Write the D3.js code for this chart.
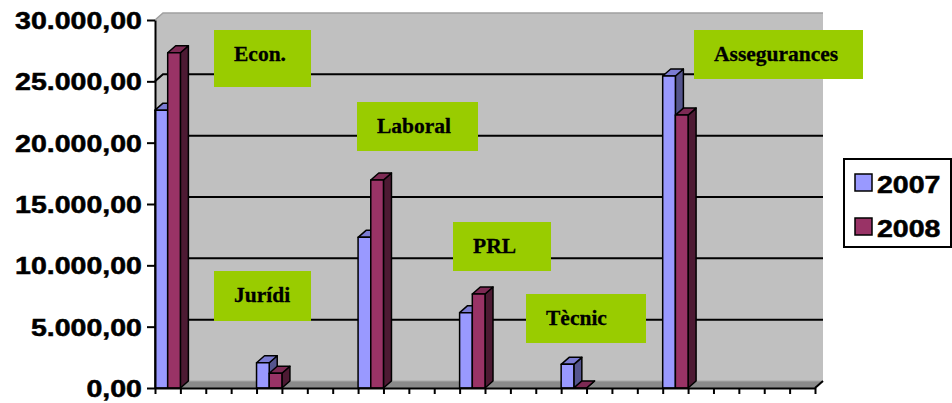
<!DOCTYPE html>
<html>
<head>
<meta charset="utf-8">
<script src="https://cdn.jsdelivr.net/npm/d3@7"></script>
<style>
  body { margin: 0; background: #fff; }
  svg { display: block; }
  .sans { font-family: "Liberation Sans", Arial, sans-serif; font-weight: bold; stroke: #000; stroke-width: 0.5px; }
  .serif { font-family: "Liberation Serif", "Times New Roman", serif; font-weight: bold; stroke: #000; stroke-width: 0.3px; }
</style>
</head>
<body>
<svg id="chart"></svg>
<script>
// data (empty slots have no bars)
const categories = ["Econ.", "", "", "", "Jurídi", "", "", "", "Laboral", "", "", "", "PRL", "", "", "", "Tècnic", "", "", "", "Assegurances", "", "", "", "", ""];
const series = ["2007", "2008"];
const values2007 = [22650, null, null, null, 2060, null, null, null, 12280, null, null, null, 6140, null, null, null, 1930, null, null, null, 25430, null, null, null, null, null];
const values2008 = [27330, null, null, null, 1200, null, null, null, 16960, null, null, null, 7660, null, null, null, 0, null, null, null, 22250, null, null, null, null, null];
const yTicks = [0, 5000, 10000, 15000, 20000, 25000, 30000];

// annotation boxes (free-floating text boxes in the original)
const labelBoxes = [
    {x: 214, y: 30, w: 97, h: 57},
    {x: 214, y: 271, w: 97, h: 50},
    {x: 357, y: 102, w: 121, h: 49},
    {x: 453, y: 222, w: 98, h: 49},
    {x: 526, y: 294, w: 120, h: 49},
    {x: 694, y: 30, w: 169, h: 49}
];

const width = 952, height = 403;
const plot = {left: 155, right: 815, top: 20, bottom: 388};
const depth = {x: 8, y: -7};
const stretch = 1.215;

const svg = d3.select("#chart").attr("width", width).attr("height", height);

const fmt = d3.formatLocale({decimal: ",", thousands: ".", grouping: [3], currency: ["", ""]}).format(",.2f");

const y = d3.scaleLinear().domain([0, 30000]).range([plot.bottom, plot.top]);
const x = d3.scaleBand().domain(d3.range(categories.length)).range([plot.left, plot.right]).padding(0);
const xTicks = d3.scaleLinear().domain([0, categories.length]).range([plot.left, plot.right]);

const colors = {
    "2007": {front: "#9999ff", top: "#7b7bd2", side: "#55558e"},
    "2008": {front: "#993366", top: "#7d2a54", side: "#4d1a33"}
};

const L = plot.left, R = plot.right, T = plot.top, B = plot.bottom;

// walls
const wall = svg.append("g");
wall.append("polygon")
    .attr("points", [[L, T], [L + depth.x, T + depth.y], [L + depth.x, B + depth.y], [L, B]].join(" "))
    .attr("fill", "#c0c0c0");
wall.append("polygon")
    .attr("points", [[L + depth.x, T + depth.y], [R + depth.x, T + depth.y], [R + depth.x, B + depth.y], [L + depth.x, B + depth.y]].join(" "))
    .attr("fill", "#c0c0c0");
wall.append("polyline")
    .attr("points", [[L, T], [L + depth.x, T + depth.y], [R + depth.x, T + depth.y]].join(" "))
    .attr("fill", "none").attr("stroke", "#a0a0a0").attr("stroke-width", 1.5);
// floor
wall.append("polygon")
    .attr("points", [[L, B], [L + depth.x, B + depth.y], [R + depth.x, B + depth.y], [R, B]].join(" "))
    .attr("fill", "#8a8a8a");
wall.append("line")
    .attr("x1", L + depth.x).attr("x2", R + depth.x)
    .attr("y1", B + depth.y).attr("y2", B + depth.y)
    .attr("stroke", "#a8a8a8").attr("stroke-width", 1);

// gridlines
wall.selectAll(".grid").data(yTicks.filter(d => d > 0 && d < 30000))
    .join("polyline")
    .attr("class", "grid")
    .attr("points", d => [[L, y(d)], [L + depth.x, y(d) + depth.y], [R + depth.x, y(d) + depth.y]].join(" "))
    .attr("fill", "none").attr("stroke", "#000").attr("stroke-width", 2);

// bars
const bars = svg.append("g");
const bw = x.bandwidth() / 2;
categories.forEach((c, i) => {
    [values2007[i], values2008[i]].forEach((v, s) => {
        if (v == null) return;
        const col = colors[series[s]];
        const x0 = x(i) + s * bw, x1 = x0 + bw;
        const yt = y(v);
        const g = bars.append("g").attr("stroke", "#000").attr("stroke-width", 1.5).attr("stroke-linejoin", "round");
        g.append("polygon")
            .attr("points", [[x1, yt], [x1 + depth.x, yt + depth.y], [x1 + depth.x, B + depth.y], [x1, B]].join(" "))
            .attr("fill", col.side);
        g.append("polygon")
            .attr("points", [[x0, yt], [x0 + depth.x, yt + depth.y], [x1 + depth.x, yt + depth.y], [x1, yt]].join(" "))
            .attr("fill", col.top);
        if (B - yt > 0) {
            g.append("rect")
                .attr("x", x0).attr("y", yt)
                .attr("width", bw).attr("height", B - yt)
                .attr("fill", col.front);
        }
    });
});

// axes
const yAxis = svg.append("g")
    .attr("transform", `translate(${L},0)`)
    .call(d3.axisLeft(y).tickValues(yTicks).tickFormat(fmt).tickSize(8).tickSizeOuter(0));
yAxis.select(".domain").attr("stroke", "#000").attr("stroke-width", 2);
yAxis.selectAll(".tick line").attr("stroke", "#000").attr("stroke-width", 2);
yAxis.selectAll(".tick text")
    .attr("class", "sans")
    .attr("x", 0).attr("dy", "0.36em")
    .attr("transform", `translate(-13,0) scale(${stretch},1)`)
    .style("font-size", "23.5px").attr("fill", "#000");

const xAxis = svg.append("g")
    .attr("transform", `translate(0,${B})`)
    .call(d3.axisBottom(xTicks).tickValues(d3.range(categories.length + 1)).tickFormat(() => "").tickSize(6).tickSizeOuter(0));
xAxis.select(".domain").attr("stroke", "#000").attr("stroke-width", 2);
xAxis.selectAll(".tick line").attr("stroke", "#000").attr("stroke-width", 2);
svg.append("line")
    .attr("x1", R).attr("y1", B)
    .attr("x2", R + depth.x).attr("y2", B + depth.y)
    .attr("stroke", "#000").attr("stroke-width", 2);

// label boxes
const named = categories.filter(c => c !== "");
const lab = svg.append("g");
named.forEach((name, i) => {
    const b = labelBoxes[i];
    lab.append("rect").attr("x", b.x).attr("y", b.y).attr("width", b.w).attr("height", b.h).attr("fill", "#99cc00");
    lab.append("text").attr("class", "serif")
        .attr("x", b.x + 20).attr("y", b.y + 31)
        .style("font-size", "21.5px").attr("fill", "#000")
        .text(name);
});

// legend
const legend = svg.append("g");
legend.append("rect")
    .attr("x", 844).attr("y", 159).attr("width", 107).attr("height", 88)
    .attr("fill", "#fff").attr("stroke", "#000").attr("stroke-width", 2);
series.forEach((s, i) => {
    const yy = 174 + i * 44;
    legend.append("rect")
        .attr("x", 855).attr("y", yy).attr("width", 17).attr("height", 17)
        .attr("fill", colors[s].front).attr("stroke", "#000").attr("stroke-width", 1.5);
    legend.append("text").attr("class", "sans")
        .attr("transform", `translate(877,${yy + 19}) scale(${stretch},1)`)
        .style("font-size", "23.5px").attr("fill", "#000")
        .text(s);
});
</script>
</body>
</html>
